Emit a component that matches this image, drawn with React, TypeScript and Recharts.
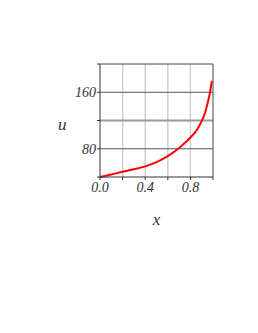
import { LineChart, Line, XAxis, YAxis, ReferenceLine } from 'recharts';

// values
const xs = [0, 0.1, 0.2, 0.3, 0.4, 0.5, 0.6, 0.7, 0.75, 0.8, 0.85, 0.9, 0.93, 0.95, 0.97, 0.98, 0.99];
const us = [40, 43.5, 47.5, 51, 55, 61, 69.5, 81, 88, 96, 105, 119, 131, 143, 157, 166, 176];

const xTicks = [0, 0.2, 0.4, 0.6, 0.8, 1];
const xLabels = ['0.0', '', '0.4', '', '0.8', ''];
const yTicks = [40, 80, 120, 160, 200];
const yLabels = ['', '80', '', '160', ''];
const vGrid = [0.2, 0.4, 0.6, 0.8];
const hGrid = [80, 160];
const hGridMid = [120];

const data = xs.map((x, i) => ({ x, u: us[i] }));

const family = "'Times New Roman', 'Liberation Serif', 'DejaVu Serif', serif";

const font = {
  fontFamily: family,
  fontStyle: 'italic',
  fontSize: 14,
  fill: '#333',
};

export default function App() {
  return (
    <LineChart
      width={242}
      height={240}
      data={data}
      margin={{ top: 56, right: 37, left: 0, bottom: 41 }}
    >
      {vGrid.map((v) => (
        <ReferenceLine key={'v' + v} x={v} stroke="#cfcfcf" strokeWidth={1.5} />
      ))}
      {hGridMid.map((v) => (
        <ReferenceLine key={'m' + v} y={v} stroke="#9a9a9a" strokeWidth={2} />
      ))}
      {hGrid.map((v) => (
        <ReferenceLine key={'h' + v} y={v} stroke="#555" strokeWidth={1} />
      ))}
      <ReferenceLine y={200} stroke="#444" strokeWidth={1} />
      <ReferenceLine x={1} stroke="#444" strokeWidth={1} />
      <XAxis
        dataKey="x"
        type="number"
        domain={[0, 1]}
        ticks={xTicks}
        tickFormatter={(v: number) => xLabels[xTicks.indexOf(v)] ?? ''}
        tick={font}
        tickSize={3}
        tickMargin={2}
        stroke="#333"
        height={30}
        label={{ value: 'x', position: 'bottom', offset: 6, fontSize: 17, fill: '#333', fontFamily: family, fontStyle: 'italic' }}
      />
      <YAxis
        type="number"
        domain={[40, 200]}
        ticks={yTicks}
        tickFormatter={(v: number) => yLabels[yTicks.indexOf(v)] ?? ''}
        tick={font}
        tickSize={3}
        tickMargin={1}
        stroke="#333"
        width={92}
        label={{ value: 'u', position: 'insideLeft', offset: 50, dy: 3, fontSize: 17, fill: '#333', fontFamily: family, fontStyle: 'italic' }}
      />
      <Line
        dataKey="u"
        type="monotone"
        stroke="#ff0000"
        strokeWidth={2}
        dot={false}
        isAnimationActive={false}
      />
    </LineChart>
  );
}
